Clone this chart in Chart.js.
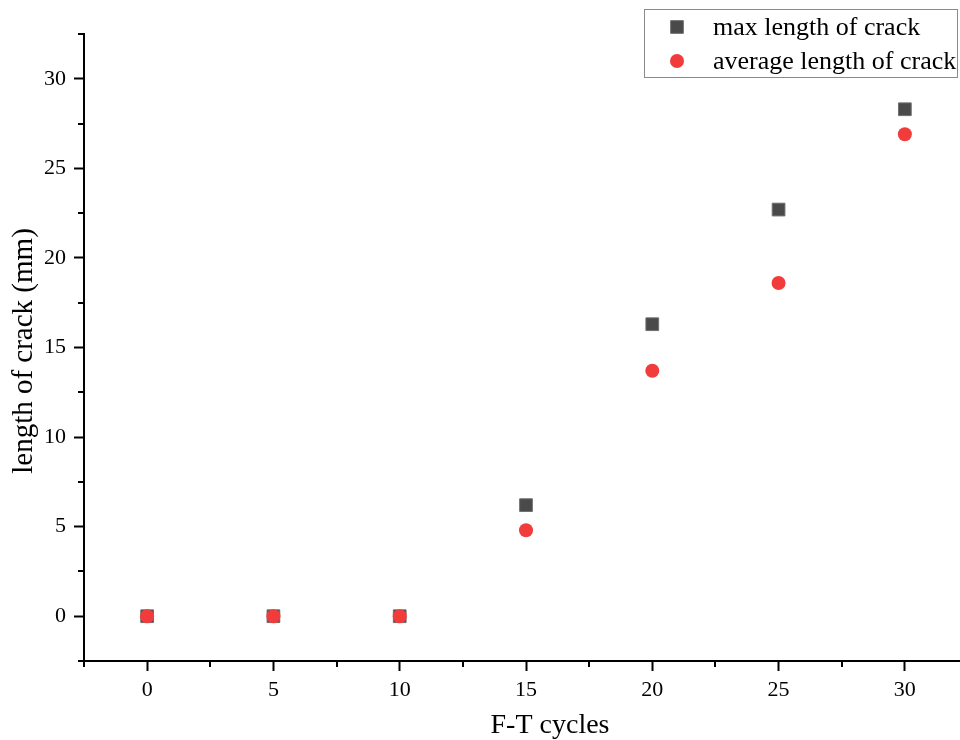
<!DOCTYPE html>
<html>
<head>
<meta charset="utf-8">
<title>Length of crack vs F-T cycles</title>
<script src="https://cdn.jsdelivr.net/npm/chart.js@4.4.1/dist/chart.umd.min.js"></script>
<style>
  html, body { margin: 0; padding: 0; background: #fff; overflow: hidden; }
  /* canvas runs a little past the window so the x axis bleeds off the right edge */
  #wrap { position: absolute; left: 0; top: 0; width: 990px; height: 740px; }
</style>
</head>
<body>
<div id="wrap"><canvas id="crackChart"></canvas></div>
<script>
// ---- data ----
var cycles    = [0, 5, 10, 15, 20, 25, 30];
var maxLength = [0, 0, 0, 6.2, 16.3, 22.7, 28.3];
var avgLength = [0, 0, 0, 4.8, 13.7, 18.6, 26.9];
var xTickLabels = [0, 5, 10, 15, 20, 25, 30];
var yTickLabels = [0, 5, 10, 15, 20, 25, 30];

var serif = "'Liberation Serif', 'Times New Roman', serif";
var greySq = "#4a4a4a";
var redDot = "#f23b3b";

function toPoints(xs, ys) {
  return xs.map(function (x, i) { return { x: x, y: ys[i] }; });
}

// major tick marks only on labelled values, minor ones drawn by plugin
function majorTickColor(list) {
  return function (ctx) {
    return ctx.tick && list.indexOf(ctx.tick.value) >= 0 ? "#000" : "rgba(0,0,0,0)";
  };
}

var minorTicks = {
  id: "minorTicks",
  afterDraw: function (chart) {
    var c = chart.ctx, area = chart.chartArea;
    var xs = chart.scales.x, ys = chart.scales.y;
    c.save();
    c.strokeStyle = "#000";
    c.lineWidth = 2;
    c.beginPath();
    for (var v = xs.min; v <= xs.max + 1e-9; v += 2.5) {
      if (xTickLabels.indexOf(v) >= 0) continue;
      var px = Math.round(xs.getPixelForValue(v));
      c.moveTo(px, area.bottom);
      c.lineTo(px, area.bottom + 6);
    }
    for (var w = ys.min; w <= ys.max + 1e-9; w += 2.5) {
      if (yTickLabels.indexOf(w) >= 0) continue;
      var py = Math.round(ys.getPixelForValue(w));
      c.moveTo(area.left, py);
      c.lineTo(area.left - 6, py);
    }
    c.stroke();
    c.restore();
  }
};

var axisTitles = {
  id: "axisTitles",
  afterDraw: function (chart) {
    var c = chart.ctx;
    c.save();
    c.fillStyle = "#000";
    c.textAlign = "center";
    c.textBaseline = "alphabetic";
    c.font = "28px " + serif;
    c.fillText("F-T cycles", 550, 733);
    c.translate(32, 351);
    c.rotate(-Math.PI / 2);
    c.font = "29px " + serif;
    c.fillText("length of crack (mm)", 0, 0);
    c.restore();
  }
};

var boxLegend = {
  id: "boxLegend",
  afterDraw: function (chart) {
    var c = chart.ctx;
    var rowY = [27, 61];
    c.save();
    c.fillStyle = "#fff";
    c.fillRect(644, 9, 314, 69);
    c.strokeStyle = "#8a8a8a";
    c.lineWidth = 1;
    c.strokeRect(644.5, 9.5, 313, 68);
    chart.data.datasets.forEach(function (ds, i) {
      c.fillStyle = ds.backgroundColor;
      c.strokeStyle = ds.borderColor;
      c.lineWidth = ds.borderWidth;
      Chart.helpers.drawPoint(c, {
        pointStyle: ds.pointStyle, radius: ds.pointRadius,
        borderWidth: ds.borderWidth, rotation: 0
      }, 677, rowY[i]);
      c.fillStyle = "#000";
      c.font = "26px " + serif;
      c.textAlign = "left";
      c.textBaseline = "middle";
      c.fillText(ds.label, 713, rowY[i] + 1);
    });
    c.restore();
  }
};

new Chart(document.getElementById("crackChart"), {
  type: "scatter",
  data: {
    datasets: [
      {
        label: "max length of crack",
        data: toPoints(cycles, maxLength),
        pointStyle: "rect",
        pointRadius: 9,
        pointHoverRadius: 9,
        backgroundColor: greySq,
        borderColor: "#707070",
        borderWidth: 1,
        order: 2
      },
      {
        label: "average length of crack",
        data: toPoints(cycles, avgLength),
        pointStyle: "circle",
        pointRadius: 7,
        pointHoverRadius: 7,
        backgroundColor: redDot,
        borderColor: redDot,
        borderWidth: 0,
        order: 1
      }
    ]
  },
  options: {
    responsive: true,
    maintainAspectRatio: false,
    animation: false,
    layout: { padding: { top: 34, right: 22, left: 0, bottom: 0 } },
    plugins: {
      legend: { display: false },
      tooltip: { enabled: false }
    },
    scales: {
      x: {
        type: "linear",
        min: -2.5,
        max: 32.5,
        afterFit: function (scale) { scale.height = 79; },
        border: { display: true, color: "#000", width: 2 },
        grid: { drawOnChartArea: false, tickLength: 10, tickWidth: 2, tickColor: majorTickColor(xTickLabels) },
        ticks: {
          stepSize: 2.5,
          autoSkip: false,
          maxRotation: 0,
          padding: 6,
          color: "#000",
          font: { family: serif, size: 22 },
          callback: function (v) { return xTickLabels.indexOf(v) >= 0 ? String(v) : ""; }
        }
      },
      y: {
        type: "linear",
        min: -2.5,
        max: 32.5,
        afterFit: function (scale) { scale.width = 84; },
        border: { display: true, color: "#000", width: 2 },
        grid: { drawOnChartArea: false, tickLength: 10, tickWidth: 2, tickColor: majorTickColor(yTickLabels) },
        ticks: {
          stepSize: 2.5,
          autoSkip: false,
          padding: 8,
          color: "#000",
          font: { family: serif, size: 22 },
          callback: function (v) { return yTickLabels.indexOf(v) >= 0 ? String(v) : ""; }
        }
      }
    }
  },
  plugins: [minorTicks, axisTitles, boxLegend]
});
</script>
</body>
</html>
